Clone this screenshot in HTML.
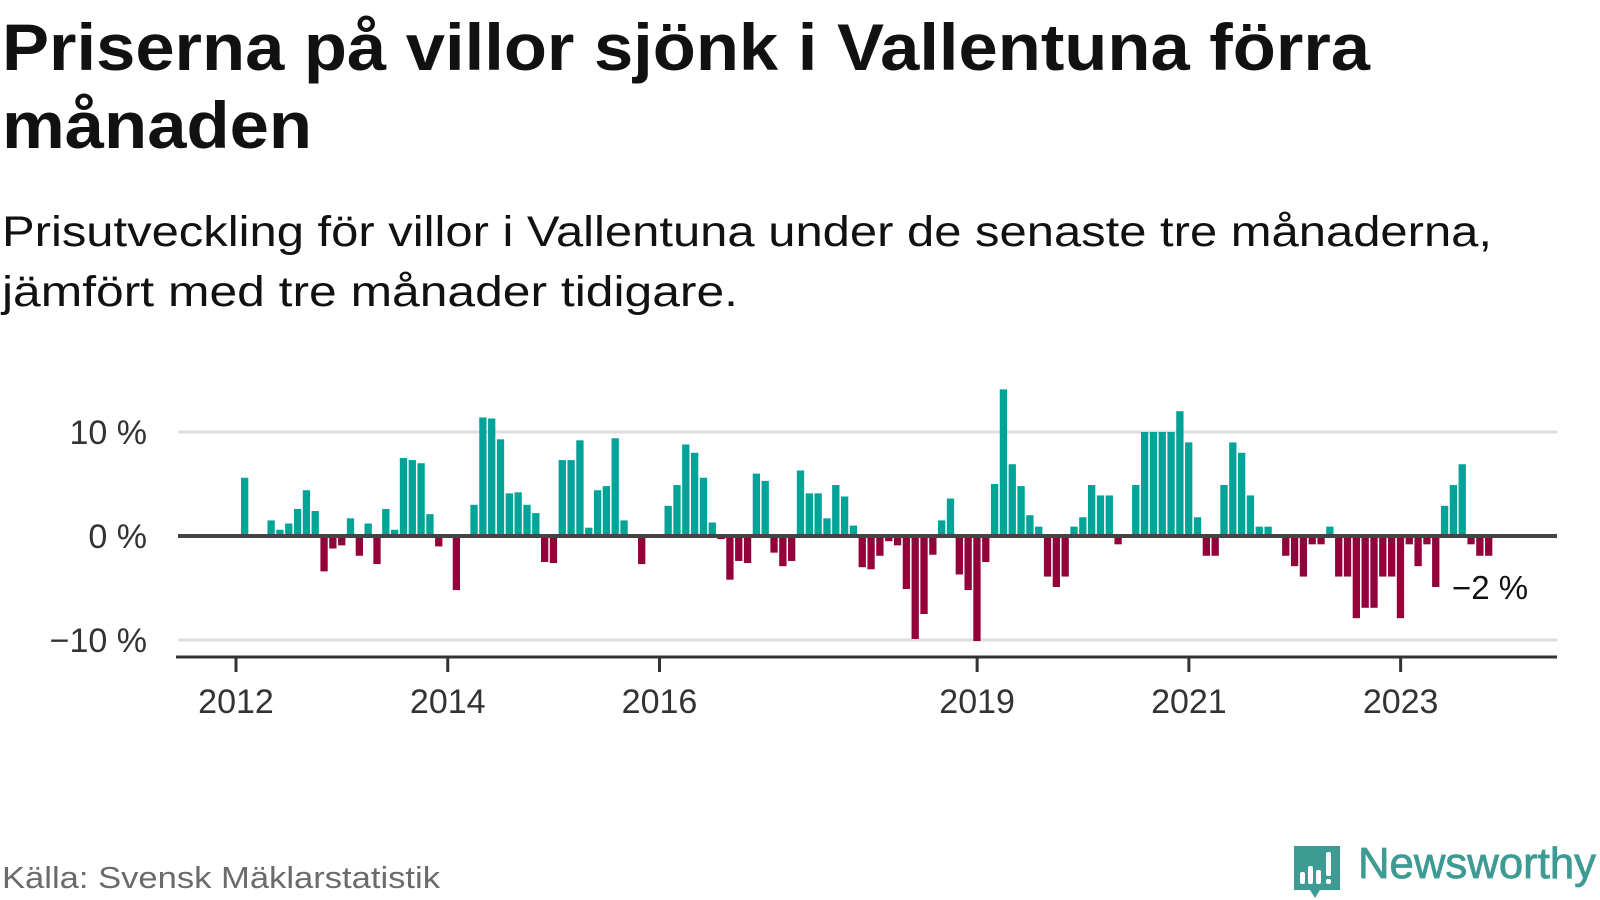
<!DOCTYPE html>
<html><head><meta charset="utf-8">
<style>
html,body{margin:0;padding:0;background:#fff;}
svg{display:block;}
text{font-family:"Liberation Sans","DejaVu Sans",sans-serif;}
</style></head>
<body>
<svg id="chart" width="1600" height="900" viewBox="0 0 1600 900" xmlns="http://www.w3.org/2000/svg">
  <text x="2" y="70" font-size="66" font-weight="bold" fill="#111" textLength="1368" lengthAdjust="spacingAndGlyphs">Priserna på villor sjönk i Vallentuna förra</text>
  <text x="2" y="148" font-size="66" font-weight="bold" fill="#111" textLength="310" lengthAdjust="spacingAndGlyphs">månaden</text>
  <text x="2" y="246" font-size="43" fill="#111" textLength="1490" lengthAdjust="spacingAndGlyphs">Prisutveckling för villor i Vallentuna under de senaste tre månaderna,</text>
  <text x="2" y="306" font-size="43" fill="#111" textLength="736" lengthAdjust="spacingAndGlyphs">jämfört med tre månader tidigare.</text>
  <g id="grid"></g>
  <g id="bars"></g>
  <g id="axes"></g>
  <text x="1452" y="599" font-size="33" fill="#111">−2 %</text>
  <text x="2" y="888" font-size="31" fill="#6b6b6b" textLength="438" lengthAdjust="spacingAndGlyphs">Källa: Svensk Mäklarstatistik</text>
  <g>
    <path d="M1294 846 h46 v44 h-20 l-5 8 l-5 -8 h-16 z" fill="#3e9b94"/>
    <rect x="1300" y="872" width="5" height="12" rx="2" fill="#fff"/>
    <rect x="1308" y="866" width="5" height="18" rx="2" fill="#fff"/>
    <rect x="1316" y="870" width="5" height="14" rx="2" fill="#fff"/>
    <rect x="1326" y="852" width="5" height="24" rx="2" fill="#fff"/>
    <rect x="1326" y="879" width="5" height="5" rx="2" fill="#fff"/>
    <text x="1358" y="878" font-size="44" fill="#3e9b94" stroke="#3e9b94" stroke-width="0.8" textLength="238" lengthAdjust="spacingAndGlyphs">Newsworthy</text>
  </g>
</svg>
<script>
const values = [5.6,0,0,1.5,0.6,1.2,2.6,4.4,2.4,-3.4,-1.2,-0.9,1.7,-1.9,1.2,-2.7,2.6,0.6,7.5,7.3,7.0,2.1,-1.0,0,-5.2,-0.1,3.0,11.4,11.3,9.3,4.1,4.2,3.0,2.2,-2.5,-2.6,7.3,7.3,9.2,0.8,4.4,4.8,9.4,1.5,0,-2.7,0,0,2.9,4.9,8.8,8.0,5.6,1.3,-0.3,-4.2,-2.4,-2.6,6.0,5.3,-1.6,-2.9,-2.4,6.3,4.1,4.1,1.7,4.9,3.8,1.0,-3.0,-3.2,-1.9,-0.5,-0.9,-5.1,-9.9,-7.5,-1.8,1.5,3.6,-3.7,-5.2,-10.1,-2.5,5.0,14.1,6.9,4.8,2.0,0.9,-3.9,-4.9,-3.9,0.9,1.8,4.9,3.9,3.9,-0.8,0,4.9,10,10,10,10,12,9,1.8,-1.9,-1.9,4.9,9,8,3.9,0.9,0.9,0,-1.9,-2.9,-3.9,-0.8,-0.8,0.9,-3.9,-3.9,-7.9,-6.9,-6.9,-3.9,-3.9,-7.9,-0.8,-2.9,-0.8,-4.9,2.9,4.9,6.9,-0.8,-1.9,-1.9];
const yTicks = [10,0,-10];
const yTickLabels = ["10 %","0 %","−10 %"];
const xTickSlots = [0,24,48,84,108,132];
const xTickLabels = ["2012","2014","2016","2019","2021","2023"];

const NS="http://www.w3.org/2000/svg";
const x0=241, pitch=8.823, bw=7.3;
const yZero=536, pxPer=10.4;
const xScale=i=>x0+i*pitch;
const yScale=v=>yZero-v*pxPer;
function mk(tag,attrs,parent){const e=document.createElementNS(NS,tag);for(const k in attrs)e.setAttribute(k,attrs[k]);parent.appendChild(e);return e;}
const grid=document.getElementById('grid'),bars=document.getElementById('bars'),axes=document.getElementById('axes');
yTicks.forEach((t,i)=>{
  if(t!==0){
    const l=mk('rect',{x:178,y:yScale(t)-1.5,width:1379,height:3,fill:'#dedede'},grid);
    
    
  }
  const tx=mk('text',{x:147,y:yScale(t)+12,'font-size':34,fill:'#333','text-anchor':'end'},axes);
  tx.textContent=yTickLabels[i];
  
  
});
values.forEach((v,i)=>{
  if(v===0)return;
  const top=v>0?yScale(v):yZero;
  const h=Math.abs(v)*pxPer;
  const r=mk('rect',{x:xScale(i),y:top,width:bw,height:h,fill:v>0?'#00a398':'#93003a'},bars);
  
  
});
const zl=mk('rect',{x:178,y:yZero-2,width:1379,height:4,fill:'#444'},axes);


const ax=mk('rect',{x:176,y:655.5,width:1381,height:3,fill:'#333'},axes);


xTickSlots.forEach((s,i)=>{
  const tx=xScale(s)-5;
  const tk=mk('rect',{x:tx-1.5,y:657,width:3,height:15,fill:'#333'},axes);
  
  
  const lb=mk('text',{x:tx,y:713,'font-size':34,fill:'#333','text-anchor':'middle'},axes);
  lb.textContent=xTickLabels[i];
  
  
});
</script>
</body></html>
